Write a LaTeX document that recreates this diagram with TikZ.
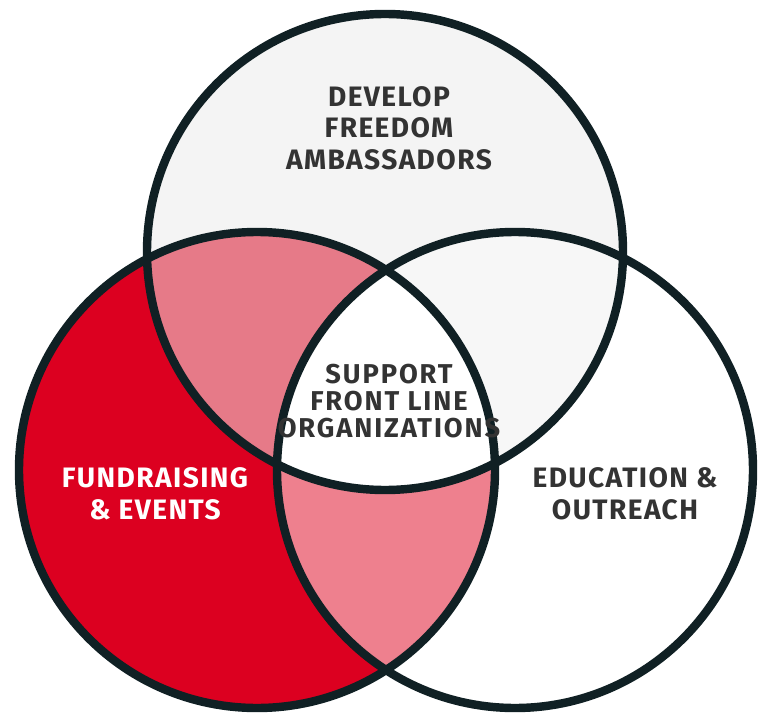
\documentclass[tikz,border=0pt]{standalone}
\usepackage{fontspec}
\setmainfont{Fira Sans}
\usepackage{xcolor}
\definecolor{ring}{RGB}{16,32,36}
\definecolor{fundred}{RGB}{220,0,32}
\definecolor{pinkup}{RGB}{230,122,136}
\definecolor{pinklow}{RGB}{238,128,142}
\definecolor{ambgray}{RGB}{244,244,244}
\definecolor{edugray}{RGB}{247,247,247}
\definecolor{ink}{RGB}{51,51,51}
\tikzset{
  ring/.style={draw=ring, line width=4.8pt},
  label/.style={align=center, text=ink, font=\bfseries\fontsize{16}{18}\selectfont\addfontfeature{LetterSpace=5}},
  core/.style={label, font=\bfseries\fontsize{15.5}{15.5}\selectfont\addfontfeature{LetterSpace=7}}
}
\begin{document}
\begin{tikzpicture}[x=0.02cm, y=-0.02cm]
	  \useasboundingbox (0, 0) rectangle (764, 713);
	  \coordinate (amb) at (385, 252);
	  \coordinate (fund) at (257, 470);
	  \coordinate (edu) at (515, 470);
	  % plain fills
	  \fill[ambgray] (amb) circle (238);
	  \fill[white] (edu) circle (238);
	  \fill[fundred] (fund) circle (238);
	  % overlaps
	  \begin{scope}
	    \clip (fund) circle (238);
	    \fill[pinkup] (amb) circle (238);
	    \fill[pinklow] (edu) circle (238);
	  \end{scope}
	  \begin{scope}
	    \clip (amb) circle (238);
	    \fill[edugray] (edu) circle (238);
	    \clip (fund) circle (238);
	    \fill[white] (edu) circle (238);
	  \end{scope}
	  % outlines
	  \draw[ring] (amb) circle (238);
	  \draw[ring] (fund) circle (238);
	  \draw[ring] (edu) circle (238);
	  % texts
	  \node[label] (ambtext) at (389, 128) {DEVELOP\\FREEDOM\\AMBASSADORS};
	  \node[core] (coretext) at (389, 401) {SUPPORT\\FRONT LINE\\ORGANIZATIONS};
	  \node[label, text=white] (fundtext) at (155, 494) {FUNDRAISING\\\& EVENTS};
	  \node[label] (edutext) at (625, 494) {EDUCATION \&\\OUTREACH};
\end{tikzpicture}
\end{document}
